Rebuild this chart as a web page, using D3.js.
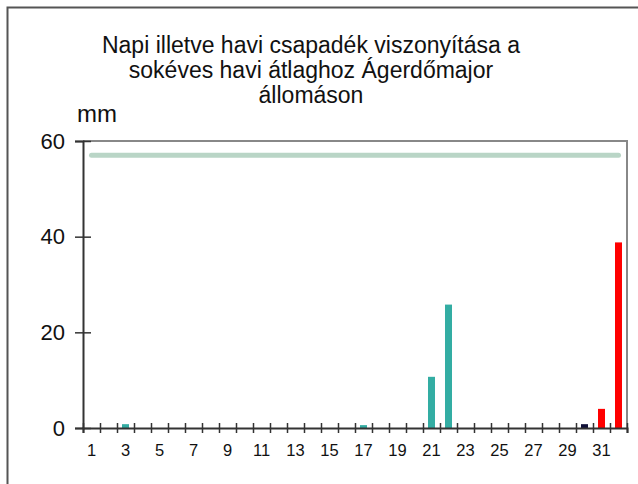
<!DOCTYPE html>
<html>
<head>
<meta charset="utf-8">
<script src="https://cdn.jsdelivr.net/npm/d3@7"></script>
<style>
  body { margin: 0; background: #fff; }
  text { font-family: "Liberation Sans", Arial, sans-serif; }
</style>
</head>
<body>
<script>
// days of the month + one extra slot (monthly total)
var days = ['1','2','3','4','5','6','7','8','9','10','11','12','13','14','15','16',
            '17','18','19','20','21','22','23','24','25','26','27','28','29','30','31','32'];

// napi csapadék (teal)
var napi = [0,0,0.8,0,0,0,0,0,0,0,0,0,0,0,0,0,
            0.6,0,0,0,10.7,25.8,0,0,0,0,0,0,0,0,0,0];
// dark bar
var egyeb = [0,0,0,0,0,0,0,0,0,0,0,0,0,0,0,0,
             0,0,0,0,0,0,0,0,0,0,0,0,0,0.8,0,0];
// red bars
var havi = [0,0,0,0,0,0,0,0,0,0,0,0,0,0,0,0,
            0,0,0,0,0,0,0,0,0,0,0,0,0,0,4.0,38.8];
// sokéves havi átlag
var atlag = [57,57,57,57,57,57,57,57,57,57,57,57,57,57,57,57,
             57,57,57,57,57,57,57,57,57,57,57,57,57,57,57,57];

var yTicks = [0,20,40,60];
var titleLines = ['Napi illetve havi csapadék viszonyítása a',
                  'sokéves havi átlaghoz Ágerdőmajor',
                  'állomáson'];

var pLeft = 83, pRight = 627, pTop = 141, pBottom = 428;

var svg = d3.select("body").append("svg").attr("width", 638).attr("height", 484);

// outer frame (left + top only visible)
svg.append("path")
      .attr("d", "M7.5,484V7.5H640")
      .attr("fill", "none")
      .attr("stroke", "#555")
      .attr("stroke-width", 2);

var x = d3.scaleBand().domain(days).range([pLeft, pRight]);
var xi = d3.scaleLinear().domain([0, days.length]).range([pLeft, pRight]);
var y = d3.scaleLinear().domain([0, 60]).range([pBottom, pTop]);

// plot border top/right
svg.append("path")
      .attr("d", "M" + pLeft + "," + pTop + "H" + pRight + "V" + pBottom)
      .attr("fill", "none")
      .attr("stroke", "#888")
      .attr("stroke-width", 2);

svg.selectAll("text.title")
      .data(titleLines)
      .enter().append("text")
      .attr("class", "title")
      .attr("x", 311)
      .attr("y", function(d,i){ return 53 + i*25; })
      .attr("text-anchor", "middle")
      .attr("font-size", 23)
      .attr("fill", "#111")
      .text(function(d){ return d; });

svg.append("text")
      .attr("x", 77)
      .attr("y", 122)
      .attr("font-size", 24)
      .attr("fill", "#111")
      .text("mm");

var bw = 7;
function bars(data, color, cls) {
  svg.selectAll("rect." + cls)
        .data(data)
        .enter().append("rect")
        .attr("class", cls)
        .attr("x", function(d,i){ return x(days[i]) + x.bandwidth()/2 - bw/2; })
        .attr("y", function(d){ return y(d); })
        .attr("width", bw)
        .attr("height", function(d){ return pBottom - y(d); })
        .attr("fill", color);
}
bars(napi, "#33ada3", "napi");
bars(egyeb, "#0f0f38", "egyeb");
bars(havi, "#ff0000", "havi");

var line = d3.line()
      .x(function(d,i){ return x(days[i]) + x.bandwidth()/2; })
      .y(function(d){ return y(d); });

svg.append("path")
      .datum(atlag)
      .attr("d", line)
      .attr("fill", "none")
      .attr("stroke", "#b9d5c6")
      .attr("stroke-width", 5)
      .attr("stroke-linecap", "round");

// y axis
var yAxis = d3.axisLeft(y).tickValues(yTicks).tickSize(8).tickPadding(10);
var gy = svg.append("g")
      .attr("transform", "translate(" + pLeft + ",0)")
      .call(yAxis);
gy.select(".domain").attr("stroke", "#333").attr("stroke-width", 2);
gy.selectAll(".tick line").attr("x1", 8).attr("stroke", "#333").attr("stroke-width", 1.5);
gy.selectAll(".tick text").attr("font-size", 22).attr("fill", "#111")
      .attr("font-family", "Liberation Sans, Arial, sans-serif");

// x axis: tick marks at slot boundaries
var gx = svg.append("g")
      .attr("transform", "translate(0," + pBottom + ")")
      .call(d3.axisBottom(xi).tickValues(d3.range(days.length + 1)).tickSize(5).tickFormat(""));
gx.select(".domain").attr("stroke", "#333").attr("stroke-width", 2);
gx.selectAll(".tick line").attr("y1", -5).attr("stroke", "#333").attr("stroke-width", 1.5);

// x labels on odd days
var gl = svg.append("g")
      .attr("transform", "translate(0," + pBottom + ")")
      .call(d3.axisBottom(x).tickSize(0).tickPadding(16)
              .tickFormat(function(d,i){ return i % 2 === 0 && i < 31 ? d : ""; }));
gl.select(".domain").remove();
gl.selectAll(".tick text").attr("font-size", 16.5).attr("fill", "#111")
      .attr("font-family", "Liberation Sans, Arial, sans-serif");
</script>
</body>
</html>
